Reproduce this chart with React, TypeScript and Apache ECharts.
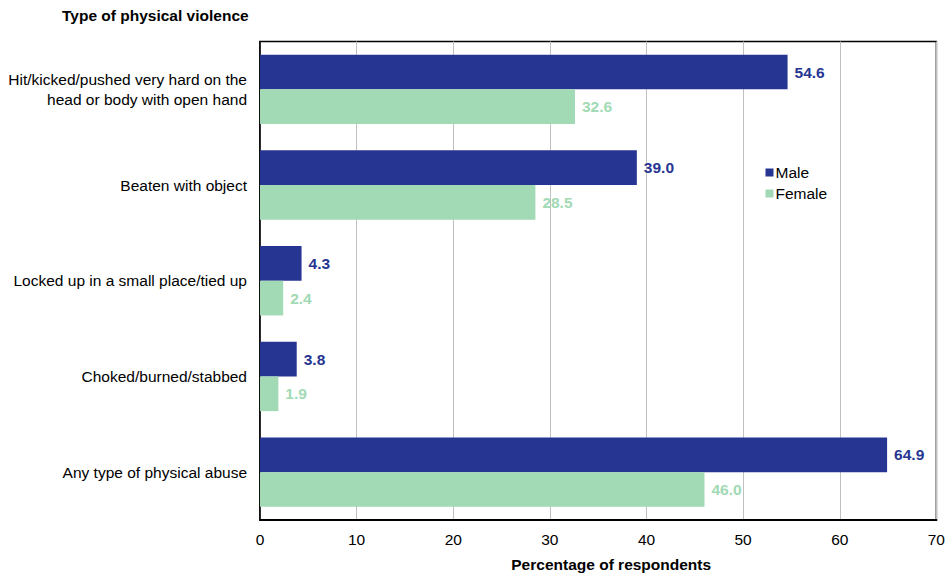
import React, { useEffect, useRef } from "react";
import * as echarts from "echarts";

const categories = [
  "Hit/kicked/pushed very hard on the\nhead or body with open hand",
  "Beaten with object",
  "Locked up in a small place/tied up",
  "Choked/burned/stabbed",
  "Any type of physical abuse",
];
const maleValues = [54.6, 39.0, 4.3, 3.8, 64.9];
const femaleValues = [32.6, 28.5, 2.4, 1.9, 46.0];
const xTicks = [0, 10, 20, 30, 40, 50, 60, 70];

const MALE = "#263592";
const FEMALE = "#a1dab4";
const FONT = "Liberation Sans, Arial, sans-serif";
const FS = 15.5;

export default function App() {
  const ref = useRef<HTMLDivElement>(null);
  useEffect(() => {
    const chart = echarts.init(ref.current!, null, { renderer: "svg" });
    chart.setOption({
      animation: false,
      textStyle: { fontFamily: FONT },
      title: {
        text: "Type of physical violence",
        left: 57,
        top: 2,
        textStyle: { fontSize: FS, fontWeight: "bold", color: "#000", fontFamily: FONT },
      },
      legend: {
        orient: "vertical",
        left: 760.5,
        top: 159.5,
        itemWidth: 8,
        itemHeight: 8,
        itemGap: 5,
        icon: "rect",
        textStyle: { fontSize: FS, color: "#000", fontFamily: FONT, padding: [0, 0, 0, -3] },
        data: ["Male", "Female"],
      },
      grid: {
        left: 260,
        right: 9,
        top: 41.5,
        bottom: 54.5,
        show: true,
        borderColor: "#000",
        borderWidth: 1.5,
        containLabel: false,
      },
      xAxis: {
        type: "value",
        min: 0,
        max: 70,
        interval: 10,
        name: "Percentage of respondents",
        nameLocation: "middle",
        nameGap: 36,
        nameTextStyle: {
          fontSize: FS,
          fontWeight: "bold",
          color: "#000",
          fontFamily: FONT,
          padding: [0, 0, 0, 26],
        },
        axisLine: { show: true, lineStyle: { color: "#000", width: 2 } },
        axisTick: { show: false },
        axisLabel: {
          fontSize: FS,
          color: "#000",
          margin: 11,
          fontFamily: FONT,
          formatter: (v: number) => (xTicks.includes(v) ? String(v) : ""),
        },
        splitLine: { show: true, lineStyle: { color: "#c0c0c0", width: 1 } },
      },
      yAxis: {
        type: "category",
        inverse: true,
        data: categories,
        axisLine: { show: true, lineStyle: { color: "#000", width: 1.5 } },
        axisTick: { show: false },
        axisLabel: {
          fontSize: FS,
          color: "#000",
          margin: 13,
          lineHeight: 20,
          align: "right",
          fontFamily: FONT,
        },
      },
      series: [
        {
          name: "Male",
          type: "bar",
          data: maleValues,
          itemStyle: { color: MALE },
          barGap: "0%",
          barCategoryGap: "27.5%",
          label: {
            show: true,
            position: "right",
            distance: 7,
            fontSize: FS,
            fontWeight: "bold",
            color: MALE,
            fontFamily: FONT,
            formatter: (p: any) => Number(p.value).toFixed(1),
          },
        },
        {
          name: "Female",
          type: "bar",
          data: femaleValues,
          itemStyle: { color: FEMALE },
          barGap: "0%",
          barCategoryGap: "27.5%",
          label: {
            show: true,
            position: "right",
            distance: 7,
            fontSize: FS,
            fontWeight: "bold",
            color: FEMALE,
            fontFamily: FONT,
            formatter: (p: any) => Number(p.value).toFixed(1),
          },
        },
      ],
    });
    return () => chart.dispose();
  }, []);
  return <div ref={ref} style={{ width: 948, height: 577, position: "absolute", left: 0, top: 0 }} />;
}
